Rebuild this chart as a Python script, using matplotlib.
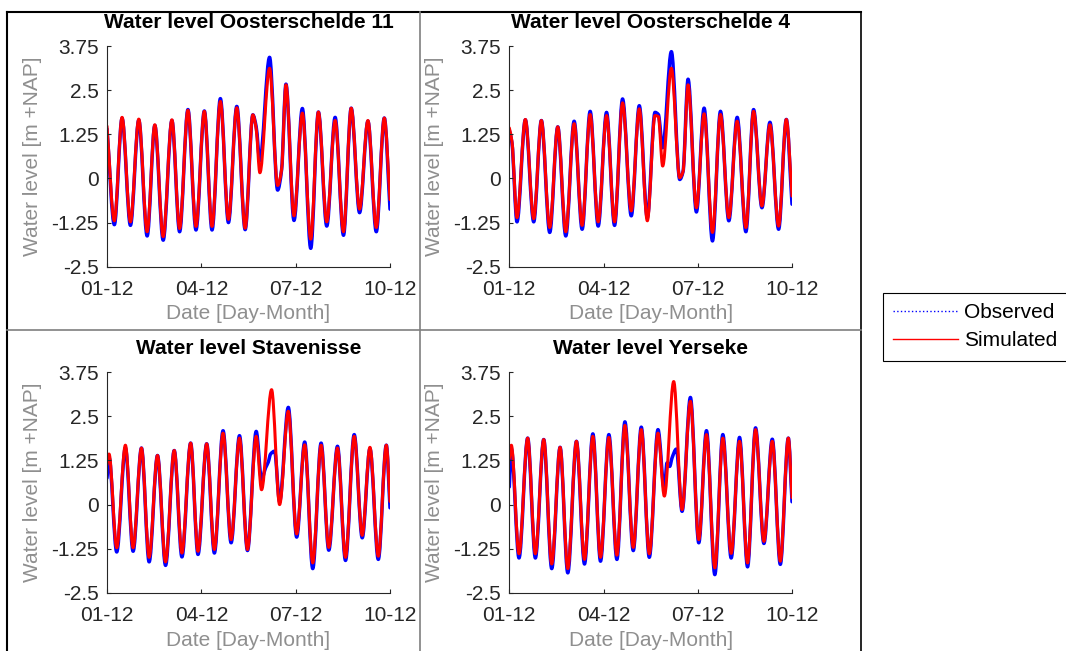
import numpy as np
import matplotlib
matplotlib.use("Agg")
import matplotlib.pyplot as plt
from matplotlib.path import Path
from matplotlib.patches import PathPatch
from matplotlib.lines import Line2D

plt.rcParams["font.family"] = ["Liberation Sans", "DejaVu Sans"]

# ── Water levels [m +NAP], time in days after 01-12 ──────────────────────────

# Oosterschelde 11
os11_sim_t = [0.000, 0.234, 0.479, 0.745, 1.011, 1.277, 1.521, 1.787, 2.064, 2.309,
              2.574, 2.830, 3.096, 3.340, 3.606, 3.862, 4.128, 4.394, 4.638, 4.745,
              4.862, 5.170, 5.426, 5.553, 5.691, 5.947, 6.213, 6.479, 6.723, 6.989,
              7.255, 7.521, 7.766, 8.032, 8.298, 8.564, 8.819, 9.000]
os11_sim_v = [1.48, -1.20, 1.73, -1.23, 1.68, -1.51, 1.52, -1.65, 1.66, -1.42,
              1.93, -1.36, 1.90, -1.36, 2.18, -1.16, 2.00, -1.41, 1.80, 1.40,
              0.16, 3.12, -0.20, 0.25, 2.65, -1.06, 1.85, -1.72, 1.88, -1.23,
              1.64, -1.51, 1.99, -0.87, 1.64, -1.39, 1.71, -0.60]
os11_obs_t = os11_sim_t
os11_obs_v = [1.40, -1.31, 1.70, -1.33, 1.65, -1.63, 1.50, -1.75, 1.64, -1.51,
              1.95, -1.46, 1.91, -1.46, 2.26, -1.25, 2.04, -1.45, 1.80, 1.46,
              0.50, 3.43, -0.33, 0.25, 2.67, -1.19, 1.98, -1.98, 1.88, -1.35,
              1.73, -1.61, 1.99, -0.97, 1.62, -1.51, 1.71, -0.87]

# Oosterschelde 4
os4_sim_t = [0.000, 0.085, 0.245, 0.511, 0.777, 1.021, 1.287, 1.543, 1.798, 2.064,
             2.319, 2.574, 2.830, 3.096, 3.351, 3.606, 3.883, 4.138, 4.394, 4.638,
             4.745, 4.883, 5.160, 5.426, 5.532, 5.691, 5.957, 6.202, 6.468, 6.723,
             6.989, 7.255, 7.532, 7.777, 8.043, 8.298, 8.574, 8.819, 9.000]
os4_sim_v = [1.43, 1.05, -1.11, 1.67, -1.14, 1.64, -1.39, 1.46, -1.51, 1.55,
             -1.33, 1.81, -1.23, 1.78, -1.23, 2.14, -0.92, 1.97, -1.20, 1.78,
             1.75, 0.35, 3.12, 0.02, 0.20, 2.65, -0.83, 1.83, -1.53, 1.81,
             -1.11, 1.62, -1.39, 1.90, -0.78, 1.52, -1.35, 1.67, -0.50]
os4_obs_t = os4_sim_t
os4_obs_v = [1.36, 1.00, -1.23, 1.66, -1.23, 1.64, -1.53, 1.46, -1.63, 1.62,
             -1.44, 1.90, -1.35, 1.87, -1.33, 2.25, -1.06, 2.06, -1.11, 1.87,
             1.81, 0.87, 3.59, -0.03, 0.20, 2.81, -0.95, 1.99, -1.77, 1.90,
             -1.20, 1.73, -1.51, 1.95, -0.83, 1.59, -1.44, 1.67, -0.73]

# Stavenisse
st_sim_t = [0.000, 0.064, 0.309, 0.585, 0.830, 1.096, 1.340, 1.606, 1.862, 2.138,
            2.383, 2.660, 2.894, 3.170, 3.415, 3.691, 3.947, 4.213, 4.468, 4.745,
            4.915, 5.234, 5.489, 5.766, 6.032, 6.287, 6.543, 6.809, 7.053, 7.330,
            7.585, 7.862, 8.117, 8.362, 8.628, 8.883, 9.000]
st_sim_v = [1.13, 1.43, -1.22, 1.68, -1.22, 1.60, -1.49, 1.39, -1.62, 1.53,
            -1.37, 1.74, -1.32, 1.72, -1.27, 2.02, -0.99, 1.88, -1.27, 1.93,
            0.42, 3.25, 0.00, 2.64, -0.83, 1.69, -1.65, 1.68, -1.21, 1.60,
            -1.49, 1.93, -0.87, 1.62, -1.46, 1.68, 0.09]
st_obs_t = [0.000, 0.064, 0.309, 0.585, 0.830, 1.096, 1.340, 1.606, 1.862, 2.138,
            2.383, 2.660, 2.894, 3.170, 3.415, 3.691, 3.947, 4.213, 4.468, 4.745,
            4.915, 5.043, 5.128, 5.202, 5.330, 5.489, 5.766, 6.032, 6.287, 6.543,
            6.809, 7.053, 7.330, 7.585, 7.862, 8.117, 8.362, 8.628, 8.883, 9.000]
st_obs_v = [0.75, 1.34, -1.34, 1.60, -1.32, 1.60, -1.62, 1.39, -1.72, 1.53,
            -1.48, 1.74, -1.41, 1.72, -1.37, 2.09, -1.08, 1.95, -1.30, 2.07,
            0.71, 1.04, 1.20, 1.43, 1.51, 0.09, 2.75, -0.92, 1.77, -1.81,
            1.74, -1.29, 1.65, -1.58, 1.98, -0.94, 1.58, -1.55, 1.68, -0.09]

# Yerseke
ye_sim_t = [0.000, 0.064, 0.309, 0.585, 0.830, 1.096, 1.351, 1.617, 1.862, 2.138,
            2.394, 2.660, 2.904, 3.170, 3.426, 3.681, 3.947, 4.202, 4.457, 4.734,
            4.936, 5.234, 5.500, 5.766, 6.032, 6.277, 6.543, 6.798, 7.064, 7.330,
            7.585, 7.840, 8.106, 8.372, 8.628, 8.883, 9.000]
ye_sim_v = [1.30, 1.68, -1.39, 1.88, -1.39, 1.84, -1.68, 1.62, -1.81, 1.79,
            -1.55, 1.93, -1.49, 1.90, -1.43, 2.24, -1.21, 2.12, -1.39, 2.02,
            0.24, 3.48, -0.14, 2.92, -0.99, 1.98, -1.79, 1.88, -1.38, 1.79,
            -1.65, 2.12, -1.04, 1.79, -1.60, 1.88, 0.20]
ye_obs_t = [0.000, 0.064, 0.309, 0.585, 0.830, 1.096, 1.351, 1.617, 1.862, 2.138,
            2.394, 2.660, 2.904, 3.170, 3.426, 3.681, 3.947, 4.202, 4.457, 4.734,
            4.936, 5.021, 5.106, 5.181, 5.319, 5.500, 5.766, 6.032, 6.277, 6.543,
            6.798, 7.064, 7.330, 7.585, 7.840, 8.106, 8.372, 8.628, 8.883, 9.000]
ye_obs_v = [0.50, 1.58, -1.51, 1.88, -1.51, 1.84, -1.81, 1.62, -1.93, 1.79,
            -1.68, 2.00, -1.60, 1.98, -1.55, 2.34, -1.30, 2.19, -1.49, 2.12,
            0.42, 1.18, 1.08, 1.32, 1.57, -0.19, 3.03, -1.08, 2.09, -1.98,
            1.98, -1.51, 1.90, -1.76, 2.17, -1.10, 1.85, -1.69, 1.88, 0.08]

stations = ["Oosterschelde 11", "Oosterschelde 4", "Stavenisse", "Yerseke"]
obs_series = [(os11_obs_t, os11_obs_v), (os4_obs_t, os4_obs_v),
              (st_obs_t, st_obs_v), (ye_obs_t, ye_obs_v)]
sim_series = [(os11_sim_t, os11_sim_v), (os4_sim_t, os4_sim_v),
              (st_sim_t, st_sim_v), (ye_sim_t, ye_sim_v)]

x_ticks = [0, 3, 6, 9]
x_ticklabels = ["01-12", "04-12", "07-12", "10-12"]
y_ticks = [-2.5, -1.25, 0, 1.25, 2.5, 3.75]
y_ticklabels = ["-2.5", "-1.25", "0", "1.25", "2.5", "3.75"]


def tide_path(t, v):
    """Smooth curve through the readings: cubic segments, flat at turning points."""
    t = np.asarray(t, float)
    v = np.asarray(v, float)
    n = len(t)
    d = np.diff(v) / np.diff(t)
    m = np.zeros(n)
    m[0], m[-1] = d[0], d[-1]
    for i in range(1, n - 1):
        if d[i - 1] * d[i] > 0:
            m[i] = 2.0 / (1.0 / d[i - 1] + 1.0 / d[i])
    verts = [(t[0], v[0])]
    codes = [Path.MOVETO]
    for i in range(n - 1):
        h = (t[i + 1] - t[i]) / 3.0
        verts += [(t[i] + h, v[i] + h * m[i]),
                  (t[i + 1] - h, v[i + 1] - h * m[i + 1]),
                  (t[i + 1], v[i + 1])]
        codes += [Path.CURVE4] * 3
    return Path(verts, codes)


W, H = 1066, 651
fig = plt.figure(figsize=(W / 100, H / 100), dpi=100)

# axes boxes in pixels: left, top, right, bottom
boxes = [(107, 46, 390, 266.7), (509.3, 46, 792, 266.7),
         (107, 372, 390, 593), (509.3, 372, 792, 593)]

FS = 15
grey_txt = "#8f8f8f"
for name, (l, t, r, b), (ot, ov), (st, sv) in zip(stations, boxes, obs_series, sim_series):
    ax = fig.add_axes([l / W, 1 - b / H, (r - l) / W, (b - t) / H])
    ax.add_patch(PathPatch(tide_path(ot, ov), facecolor="none", edgecolor="#0000ff",
                           lw=2.5, joinstyle="round", capstyle="round"))
    ax.add_patch(PathPatch(tide_path(st, sv), facecolor="none", edgecolor="#ff0000",
                           lw=2.2, joinstyle="round", capstyle="round"))
    ax.set_xlim(0, 9)
    ax.set_ylim(-2.5, 3.75)
    ax.set_xticks(x_ticks)
    ax.set_xticklabels(x_ticklabels)
    ax.set_yticks(y_ticks)
    ax.set_yticklabels(y_ticklabels)
    ax.tick_params(direction="in", length=3, width=0.8, labelsize=FS,
                   colors="#262626")
    ax.tick_params(axis="x", pad=9.5)
    ax.tick_params(axis="y", pad=6)
    for side in ("top", "right"):
        ax.spines[side].set_visible(False)
    for side in ("left", "bottom"):
        ax.spines[side].set_color("#262626")
        ax.spines[side].set_linewidth(0.8)
    ax.set_title(f"Water level {name}", fontsize=FS, fontweight="bold", pad=13)
    ax.set_xlabel("Date [Day-Month]", fontsize=FS, color=grey_txt, labelpad=4)
    ax.set_ylabel("Water level [m +NAP]", fontsize=FS, color=grey_txt, labelpad=7)

# cell borders around the four panels
def fig_line(x0, y0, x1, y1, color, lw):
    fig.add_artist(Line2D([x0 / W, x1 / W], [1 - y0 / H, 1 - y1 / H],
                          transform=fig.transFigure, color=color, lw=lw))

fig_line(7.3, 11.7, 860.7, 11.7, "black", 1.5)
fig_line(7.3, 11.7, 7.3, H, "black", 1.5)
fig_line(860.7, 11.7, 860.7, H, "black", 1.2)
fig_line(420, 11.7, 420, H, "#7f7f7f", 1.2)
fig_line(7.3, 330, 860.7, 330, "#7f7f7f", 1.2)

handles = [Line2D([], [], color="#0000ff", lw=1.0, ls=":"),
           Line2D([], [], color="#ff0000", lw=1.0)]
fig.legend(handles, ["Observed", "Simulated"], loc="upper left",
           bbox_to_anchor=(883 / W, 1 - 292.7 / H), bbox_transform=fig.transFigure,
           fontsize=FS, frameon=True, fancybox=False, edgecolor="black",
           framealpha=1, borderaxespad=0, borderpad=0.5, handlelength=3.1,
           handletextpad=0.3, labelspacing=0.45)
fig.legends[0].get_frame().set_linewidth(0.8)

fig.savefig("out.png", dpi=100)
